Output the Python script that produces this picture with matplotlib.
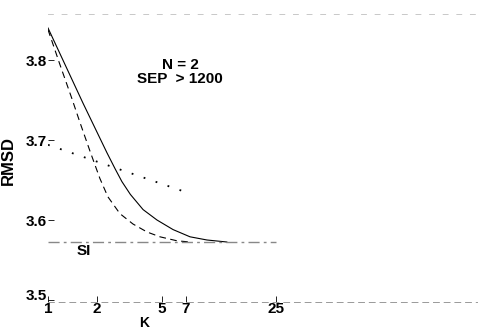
import matplotlib
matplotlib.use("Agg")
import matplotlib.pyplot as plt

# values
k_solid = [1.0, 1.64, 2.30, 2.58, 2.84, 3.2, 3.83, 4.66, 5.85, 7.43, 9.45, 12.5]
rmsd_solid = [3.840, 3.746, 3.684, 3.664, 3.648, 3.632, 3.613, 3.600, 3.588, 3.579, 3.575, 3.5725]

k_dashed = [1.0, 1.18, 1.40, 1.57, 1.81, 2.08, 2.33, 2.76, 3.32, 4.05, 4.86, 6.18, 7.43]
rmsd_dashed = [3.838, 3.795, 3.752, 3.722, 3.686, 3.652, 3.629, 3.608, 3.595, 3.585,
               3.579, 3.574, 3.5725]

k_dotted = [1, 7.2]
rmsd_dotted = [3.694, 3.634]

k_si = [1, 25]
rmsd_si = [3.5725, 3.5725]

xticks = [1, 2, 5, 7, 25]
yticks = [3.5, 3.6, 3.7, 3.8]

plt.rcParams['font.family'] = ['Liberation Sans', 'DejaVu Sans']
plt.rcParams['font.weight'] = 'bold'

fig = plt.figure(figsize=(4.78, 3.31), dpi=100)
ax = fig.add_axes([48 / 478, 29 / 331, 430 / 478, 288 / 331])

ax.plot(k_solid, rmsd_solid, color='black', lw=0.8)
ax.plot(k_dashed, rmsd_dashed, color='black', lw=0.8, dashes=(6, 4))
ax.plot(k_dotted, rmsd_dotted, color='black', lw=1.3, dashes=(1, 6))
ax.plot(k_si, rmsd_si, color='#888888', lw=1.0, dashes=(8, 3, 2, 3))

ax.set_xscale('log')
ax.set_xlim(1, 434)
ax.set_ylim(3.4975, 3.8575)
ax.set_xticks(xticks)
ax.set_xticklabels([str(v) for v in xticks])
ax.minorticks_off()
ax.set_yticks(yticks)
ax.set_yticklabels([f'{v:.1f}' for v in yticks])
ax.tick_params(direction='in', length=4, width=0.6, labelsize=11, pad=1)
ax.tick_params(axis='x', pad=0)
ax.get_yticklabels()[0].set_va('baseline')

for side in ['left', 'right']:
    ax.spines[side].set_visible(False)
ax.spines['top'].set_color('#c8c8c8')
ax.spines['top'].set_linewidth(0.7)
ax.spines['top'].set_linestyle((0, (5, 9)))
ax.spines['bottom'].set_color('#999999')
ax.spines['bottom'].set_linewidth(0.7)
ax.spines['bottom'].set_linestyle((0, (6, 5)))

ax.set_ylabel('RMSD', fontsize=12, fontweight='bold', labelpad=0)
ax.yaxis.set_label_coords(-0.075, 0.49)
ax.set_xlabel('K', fontsize=10, fontweight='bold')
ax.xaxis.set_label_coords(0.223, -0.05)

ax.text(6.45, 3.7935, 'N = 2', fontsize=11, fontweight='bold', ha='center', va='center')
ax.text(6.45, 3.776, 'SEP  > 1200', fontsize=11, fontweight='bold', ha='center', va='center')
ax.text(1.66, 3.561, 'SI', fontsize=11, fontweight='bold', ha='center', va='center')

fig.savefig('out.png', dpi=100)
